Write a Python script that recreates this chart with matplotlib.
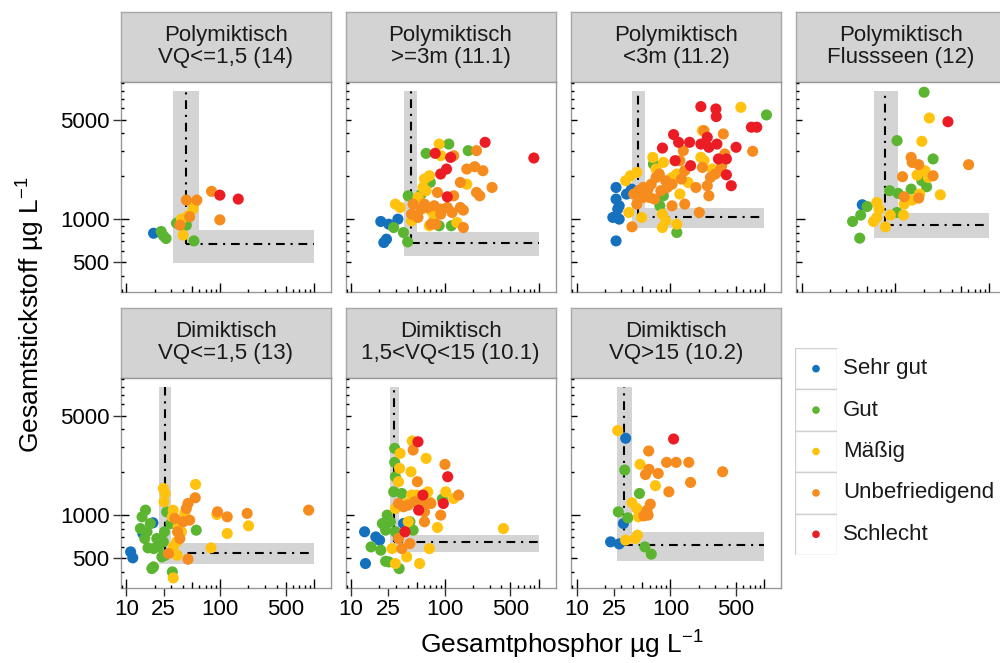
import matplotlib
matplotlib.use('Agg')
import matplotlib.pyplot as plt
from matplotlib.patches import Rectangle
from matplotlib.transforms import blended_transform_factory

plt.rcParams['font.family'] = ['Liberation Sans', 'DejaVu Sans']
plt.rcParams['mathtext.fontset'] = 'custom'
plt.rcParams['mathtext.rm'] = 'Liberation Sans'
plt.rcParams['mathtext.it'] = 'Liberation Sans:italic'

# classes (legend) and their colours
categories = ['Sehr gut', 'Gut', 'Mäßig', 'Unbefriedigend', 'Schlecht']
colors = ['#1570be', '#5cb531', '#ffc20f', '#f68c1e', '#ec1c24']

titles = ['Polymiktisch\nVQ<=1,5 (14)', 'Polymiktisch\n>=3m (11.1)',
          'Polymiktisch\n<3m (11.2)', 'Polymiktisch\nFlussseen (12)',
          'Dimiktisch\nVQ<=1,5 (13)', 'Dimiktisch\n1,5<VQ<15 (10.1)',
          'Dimiktisch\nVQ>15 (10.2)']

# reference TP / TN per lake type with ranges (grey bands)
ref_tp = [43.6, 43, 44.9, 78, 25.9, 28.8, 32]
ref_tp_lo = [31.6, 36.9, 39, 59.3, 22.5, 25.8, 26.9]
ref_tp_hi = [59.3, 50.8, 53.3, 106, 29.9, 32.5, 39]
ref_tn = [667, 685, 1028, 908, 546, 649, 615]
ref_tn_lo = [495, 552, 873, 735, 457, 552, 476]
ref_tn_hi = [837, 815, 1189, 1096, 638, 731, 764]
band_tp_max = 1000
band_tn_max = 8000

# lakes: (TP, TN, class index)
p1 = [(19.5, 796, 0),
      (23.5, 819, 1), (24.8, 764, 1), (26.5, 731, 1), (34.3, 937, 1), (43.6, 908, 1), (52.5, 703, 1),
      (38.6, 1000, 2), (40.3, 771, 2), (45.4, 1055, 2), (51.3, 1176, 2), (52.5, 1275, 2),
      (37.2, 908, 3), (47.3, 1039, 3), (43.6, 1361, 3), (56.5, 1361, 3), (81, 1567, 3), (99.3, 989, 3),
      (99.3, 1475, 4), (156, 1384, 4)]

p2 = [(20.7, 963, 0), (25.2, 922, 0), (31.5, 1000, 0), (22.3, 685, 0), (23.8, 723, 0),
      (28.4, 873, 1), (36.1, 805, 1), (40.6, 1459, 1), (40, 692, 1), (63, 2900, 1), (110, 3370, 1),
      (177, 3030, 1), (69.8, 1812, 1), (86.7, 898, 1), (117, 898, 1), (55.8, 1500, 1),
      (86.7, 3370, 2), (90.2, 2793, 2), (60.5, 1914, 2), (68.2, 2018, 2), (58.2, 1670, 2), (29.6, 1275, 2),
      (33.3, 1208, 2), (63, 1585, 2), (51.6, 1420, 2), (71, 1145, 2), (134, 948, 2), (171, 1760, 2),
      (76.9, 1028, 2), (68.2, 898, 2), (44, 973, 2),
      (124, 2793, 3), (217, 3030, 3), (171, 2250, 3), (208, 2337, 3), (254, 2190, 3), (146, 1812, 3),
      (217, 1540, 3), (235, 1459, 3), (318, 1670, 3), (124, 1459, 3), (83.2, 1540, 3), (44, 1084, 3),
      (49.7, 1055, 3), (55.8, 1176, 3), (65.6, 1208, 3), (76.9, 1241, 3), (90.2, 1176, 3), (106, 1208, 3),
      (119, 1114, 3), (146, 1208, 3), (157, 1157, 3), (71, 922, 3), (80, 922, 3), (157, 873, 3),
      (45.8, 1275, 3), (60.5, 1275, 3), (51.6, 1028, 3), (90.2, 1084, 3),
      (268, 3467, 4), (887, 2690, 4), (78.7, 2900, 4), (115, 2717, 4), (90, 2075, 4), (104, 2250, 4),
      (106, 1436, 4)]

p3 = [(26.3, 1670, 0), (26.3, 1384, 0), (28.4, 1241, 0), (27.4, 1176, 0), (24.3, 1028, 0), (28.4, 1000, 0),
      (26.3, 703, 0), (34, 1500, 0), (38.4, 1626, 0),
      (1057, 5400, 1), (65.9, 2440, 1), (84.1, 1459, 1), (77.1, 1241, 1), (117, 805, 1),
      (564, 6110, 2), (219, 4190, 2), (33.3, 1862, 2), (37.4, 2018, 2), (43.8, 2133, 2), (64.9, 2717, 2),
      (84.1, 2505, 2), (70.2, 2250, 2), (104, 1963, 2), (117, 2075, 2), (154, 1812, 2), (211, 2720, 2),
      (228, 2580, 2), (278, 2250, 2), (36, 1114, 2), (49.3, 1028, 2), (82, 1084, 2), (89, 973, 2),
      (82, 873, 2), (117, 922, 2), (55.5, 1500, 2), (126, 1500, 2),
      (40.6, 1500, 3), (45.6, 1585, 3), (51.3, 1670, 3), (57.7, 1626, 3), (62.3, 1760, 3), (70.2, 1963, 3),
      (76, 2075, 3), (89, 1862, 3), (60, 1420, 3), (67.5, 1384, 3), (79, 1585, 3), (92.5, 1670, 3),
      (104, 1760, 3), (131, 1914, 3), (142, 2190, 3), (126, 2576, 3), (137, 3030, 3), (187, 1670, 3),
      (247, 1718, 3), (267, 1963, 3), (301, 2075, 3), (338, 2190, 3), (352, 2376, 3), (219, 2310, 3),
      (228, 4190, 3), (257, 1459, 3), (203, 1114, 3), (142, 1275, 3), (104, 1241, 3), (43.8, 1275, 3),
      (38.9, 883, 3), (380, 2870, 3), (753, 3000, 3), (366, 3970, 3), (51.3, 1420, 3),
      (211, 6180, 4), (305, 5950, 4), (308, 5260, 4), (730, 4430, 4), (833, 4430, 4), (108, 3930, 4),
      (122, 3470, 4), (160, 3470, 4), (112, 2576, 4), (164, 2376, 4), (82.2, 3160, 4), (211, 3370, 4),
      (247, 3760, 4), (257, 3200, 4), (313, 3370, 4), (501, 3200, 4), (325, 2650, 4), (395, 2650, 4),
      (395, 2050, 4), (445, 1718, 4)]

p4 = [(44.3, 1262, 0),
      (202, 7800, 1), (104, 3565, 1), (252, 2650, 1), (191, 1862, 1), (215, 1690, 1), (147, 1626, 1),
      (86.7, 1585, 1), (107, 1517, 1), (49.9, 1227, 1), (42.6, 1067, 1), (34.9, 963, 1), (41.6, 735, 1),
      (104, 1114, 1),
      (230, 5140, 2), (191, 3525, 2), (170, 2040, 2), (207, 2190, 2), (224, 1963, 2), (181, 1500, 2),
      (151, 1361, 2), (301, 1483, 2), (124, 1275, 2), (63.2, 1310, 2), (66.8, 1176, 2), (63.2, 1028, 2),
      (58.3, 963, 2), (78.2, 883, 2), (88.1, 1067, 2), (122, 1067, 2),
      (147, 2717, 3), (151, 2505, 3), (177, 2415, 3), (603, 2415, 3), (119, 1987, 3), (252, 2018, 3),
      (124, 1436, 3), (177, 1406, 3),
      (363, 4840, 4)]

p5 = [(11.1, 552, 0), (11.7, 501, 0), (19.2, 883, 0), (15, 743, 0),
      (16, 1084, 1), (14.7, 973, 1), (18, 873, 1), (14.1, 805, 1), (15.7, 685, 1), (17, 589, 1),
      (19.5, 582, 1), (22, 598, 1), (24.8, 649, 1), (23.9, 509, 1), (18.7, 421, 1), (19.5, 433, 1),
      (30.9, 399, 1), (26.9, 1055, 1), (29.9, 873, 1), (55.6, 784, 1), (25.5, 764, 1), (21.1, 685, 1),
      (16.6, 764, 1), (25.9, 522, 1),
      (54.7, 1644, 2), (24.8, 1540, 2), (25.9, 1420, 2), (25.2, 1241, 2), (31.6, 1084, 2), (41.9, 1028, 2),
      (30.9, 973, 2), (35.6, 828, 2), (38.6, 764, 2), (34.3, 649, 2), (31.6, 598, 2), (79.8, 589, 2),
      (119, 743, 2), (201, 841, 2), (92.3, 1011, 2), (34.8, 522, 2), (31.6, 362, 2),
      (54.2, 1324, 3), (45.4, 1208, 3), (47.3, 922, 3), (40.3, 898, 3), (32.9, 948, 3), (35.1, 764, 3),
      (37.2, 685, 3), (93.8, 1055, 3), (119, 973, 3), (194, 1028, 3), (879, 1084, 3), (28.1, 537, 3),
      (45.4, 490, 3), (43.6, 1114, 3)]

p6 = [(13.9, 764, 0), (14.2, 457, 0), (18.3, 703, 0), (20.1, 667, 0), (36.1, 873, 0),
      (29.1, 2946, 1), (29.1, 2350, 1), (29.6, 1862, 1), (28.4, 1459, 1), (34.7, 1420, 1), (24.2, 1000, 1),
      (21.5, 873, 1), (26.2, 898, 1), (23.3, 784, 1), (29.6, 764, 1), (16.3, 598, 1), (20.7, 567, 1),
      (23.3, 474, 1), (25.2, 469, 1), (32.5, 421, 1), (42.3, 898, 1), (45.8, 784, 1), (93.7, 1297, 1),
      (44.8, 3320, 2), (33.3, 2717, 2), (63, 2505, 2), (32.8, 2133, 2), (43.4, 2018, 2), (32, 1718, 2),
      (44, 1384, 2), (49.7, 1384, 2), (65.6, 1459, 2), (102, 1459, 2), (124, 1310, 2), (83.2, 819, 2),
      (420, 805, 2), (68.2, 582, 2), (53.7, 457, 2), (39.1, 509, 2), (29.6, 457, 2), (27.3, 582, 2),
      (40.6, 898, 2), (29.6, 1114, 2), (39.1, 1208, 2), (68.2, 1241, 2),
      (45.8, 2870, 3), (100, 2275, 3), (50.8, 1718, 3), (140, 1384, 3), (32, 1208, 3), (36.1, 1145, 3),
      (40.6, 1176, 3), (47.6, 1241, 3), (55.8, 1208, 3), (71, 1208, 3), (90.2, 1000, 3), (60.5, 898, 3),
      (60.5, 1055, 3), (42.3, 631, 3), (32, 685, 3), (34.7, 582, 3),
      (51.6, 3280, 4), (107, 1862, 4), (58.2, 1384, 4), (96.2, 1208, 4), (52.5, 1084, 4), (37.5, 764, 4)]

p7 = [(33.3, 3470, 0), (31.5, 873, 0), (23, 649, 0), (28.4, 628, 0),
      (32.5, 2075, 1), (46.7, 1420, 1), (27.8, 1055, 1), (35.1, 957, 1), (53.3, 598, 1), (62.4, 532, 1),
      (27.4, 3930, 2), (47.4, 2275, 2), (69.2, 1611, 2), (38.9, 1222, 2), (43.8, 1114, 2), (45.6, 973, 2),
      (44.5, 723, 2), (42.2, 685, 2), (33.3, 667, 2),
      (58.6, 2825, 3), (59, 2100, 3), (91, 2350, 3), (115, 2350, 3), (157, 2350, 3), (360, 2018, 3),
      (54.2, 1930, 3), (74.1, 1963, 3), (164, 1698, 3), (96.2, 1459, 3), (61, 1195, 3), (56.4, 1084, 3),
      (57.7, 1000, 3), (52.1, 989, 3),
      (108, 3430, 4)]

panels = [p1, p2, p3, p4, p5, p6, p7]

xticks = [10, 25, 100, 500]
yticks = [500, 1000, 5000]

W, H = 1000, 663
fig = plt.figure(figsize=(W / 100, H / 100), dpi=100)


def px_axes(left, top, w, h):
    return fig.add_axes([left / W, 1 - (top + h) / H, w / W, h / H])


def logticks(ax, w, h):
    # ggplot-like annotation_logticks on bottom and left side
    tb = blended_transform_factory(ax.transData, ax.transAxes)
    tl = blended_transform_factory(ax.transAxes, ax.transData)
    x0, x1 = ax.get_xlim()
    y0, y1 = ax.get_ylim()
    for dec in [1, 10, 100, 1000, 10000]:
        for m in range(1, 10):
            v = m * dec
            ln = 8.5 if m == 1 else (5.5 if m == 5 else 3)
            if x0 <= v <= x1:
                ax.plot([v, v], [0, ln / h], color='black', lw=1.0, transform=tb,
                        clip_on=False, zorder=5, solid_capstyle='butt')
            if y0 <= v <= y1:
                ax.plot([0, ln / w], [v, v], color='black', lw=1.0, transform=tl,
                        clip_on=False, zorder=5, solid_capstyle='butt')


col_left = [120.7, 345.5, 571, 796]
row_top = [81.7, 377.7]
pw, ph, sh = 210, 210, 70

for i, pts in enumerate(panels):
    row, col = divmod(i, 4)
    left, top = col_left[col], row_top[row]

    # strip
    st = px_axes(left, top - sh, pw, sh)
    st.set_facecolor('#d3d3d3')
    st.set_xticks([])
    st.set_yticks([])
    for s in st.spines.values():
        s.set_color('#a8a8a8')
        s.set_linewidth(1.0)
    st.text(0.5, 0.5, titles[i], ha='center', va='center', fontsize=16,
            linespacing=1.05, color='#1a1a1a', transform=st.transAxes)

    ax = px_axes(left, top, pw, ph)
    ax.set_xscale('log')
    ax.set_yscale('log')
    ax.set_xlim(8.7, 1510)
    ax.set_ylim(309, 9250)
    for s in ax.spines.values():
        s.set_color('#999999')
        s.set_linewidth(1.0)

    # reference bands and lines
    ax.add_patch(Rectangle((ref_tp_lo[i], ref_tn_lo[i]), ref_tp_hi[i] - ref_tp_lo[i],
                           band_tn_max - ref_tn_lo[i], facecolor='#d4d4d4', edgecolor='none', zorder=1))
    ax.add_patch(Rectangle((ref_tp_lo[i], ref_tn_lo[i]), band_tp_max - ref_tp_lo[i],
                           ref_tn_hi[i] - ref_tn_lo[i], facecolor='#d4d4d4', edgecolor='none', zorder=1))
    dd = (0, (4.2, 2.8, 1.0, 2.8))
    ax.plot([ref_tp[i], ref_tp[i]], [ref_tn[i], band_tn_max], color='black', lw=1.5,
            linestyle=dd, zorder=2)
    ax.plot([ref_tp[i], band_tp_max], [ref_tn[i], ref_tn[i]], color='black', lw=1.5,
            linestyle=dd, zorder=2)

    for k in range(len(categories)):
        xs = [p[0] for p in pts if p[2] == k]
        ys = [p[1] for p in pts if p[2] == k]
        ax.scatter(xs, ys, s=64, color=colors[k], edgecolors='none', zorder=3)

    ax.minorticks_off()
    ax.set_xticks(xticks)
    ax.set_xticklabels([str(t) for t in xticks])
    ax.set_yticks(yticks)
    ax.set_yticklabels([str(t) for t in yticks])
    ax.minorticks_off()
    ax.tick_params(axis='both', direction='out', length=6, width=1.0, color='#333333',
                   labelsize=16, pad=2)
    show_x = row == 1
    ax.tick_params(axis='x', bottom=show_x, labelbottom=show_x)
    ax.tick_params(axis='y', left=(col == 0), labelleft=(col == 0))
    logticks(ax, pw, ph)

# legend
lg = px_axes(795, 348, 42, 207)
lg.set_xlim(0, 1)
lg.set_ylim(len(categories), 0)
lg.axis('off')
for k, name in enumerate(categories):
    lg.add_patch(Rectangle((0, k), 1, 1, facecolor='white', edgecolor='#d0d0d0', lw=1.0))
    lg.scatter([0.5], [k + 0.5], s=30, color=colors[k], edgecolors='none', zorder=3)
    lg.text(1.15, k + 0.5, name, ha='left', va='center', fontsize=16, color='#1a1a1a',
            clip_on=False)

fig.text(0.031, 0.525, 'Gesamtstickstoff µg L$^{-1}$', rotation=90, ha='center',
         va='center', fontsize=19)
fig.text(0.562, 0.028, 'Gesamtphosphor µg L$^{-1}$', ha='center', va='center', fontsize=19)

fig.savefig('out.png', dpi=100)
